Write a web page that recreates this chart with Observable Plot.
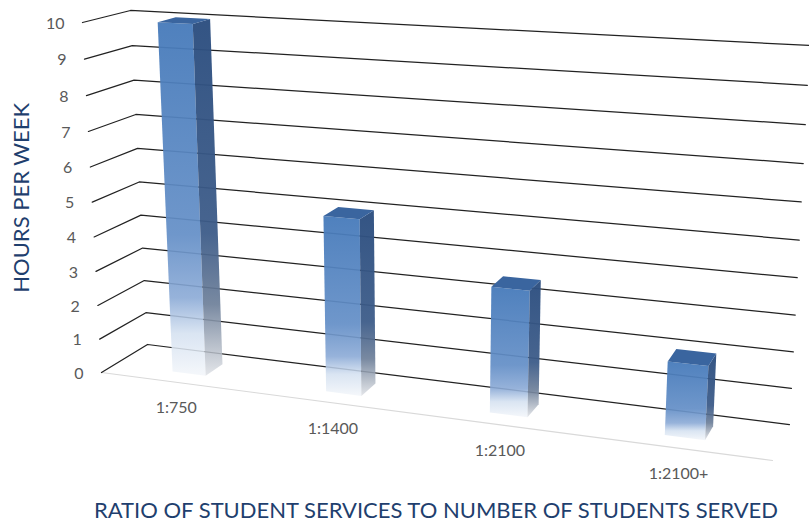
<!DOCTYPE html>
<html><head><meta charset="utf-8">
<script src="https://cdn.jsdelivr.net/npm/d3@7"></script>
<script src="https://cdn.jsdelivr.net/npm/@observablehq/plot@0.6"></script>
<style>html,body{margin:0;padding:0;background:#fff}svg{display:block}</style>
</head><body><div id="chart"></div>
<script>
const categories = ["1:750", "1:1400", "1:2100", "1:2100+"];
const hours = [10, 5, 3.5, 2];
const hourTicks = [0, 1, 2, 3, 4, 5, 6, 7, 8, 9, 10];
const xTitle = "RATIO OF STUDENT SERVICES TO NUMBER OF STUDENTS SERVED";
const yTitle = "HOURS PER WEEK";

// Chart box corners in scale units: floor/ceiling, front/back, left/right.
const corners = {
  flb: [0, 0], frb: [1, -2.514], blb: [0.0686, 0.8], brb: [1.0253, -1.486],
  flt: [-0.0283, 10], frt: [1.0343, 8.886], blt: [0.0432, 10.343], brt: [1.0551, 9.343]
};
const warp = (t, a) => t / (a + (1 - a) * t);
const lerp = (p, q, t) => [p[0] + (q[0] - p[0]) * t, p[1] + (q[1] - p[1]) * t];
function project(pos, depth, h) {
  const u = warp(pos, 1.14), t = warp(h / 10, 1.055), k = corners;
  const low = lerp(lerp(k.flb, k.frb, u), lerp(k.blb, k.brb, u), depth);
  const high = lerp(lerp(k.flt, k.frt, u), lerp(k.blt, k.brt, u), depth);
  return lerp(low, high, t);
}
const pt = (id, pos, depth, h) => { const [x, y] = project(pos, depth, h); return {id, x, y}; };

const grid = hourTicks.flatMap(h => [pt(h, 0, 0, h), pt(h, 0, 1, h), pt(h, 1, 1, h)]);
const floorEdge = [pt("floor", 0, 0, 0), pt("floor", 1, 0, 0)];
const tickLabels = hourTicks.map(h => ({...pt(h, 0, 0, h), label: String(h)}));
const n = categories.length, half = 0.0276, d0 = 0.3, d1 = 0.7;
const centre = i => (i + 0.5) / n;
const catLabels = categories.map((label, i) => ({...pt(i, centre(i), 0, 0), label}));
const fronts = hours.flatMap((h, i) => { const a = centre(i) - half, b = centre(i) + half;
  return [pt(i, a, d0, 0), pt(i, b, d0, 0), pt(i, b, d0, h), pt(i, a, d0, h)]; });
const sides = hours.flatMap((h, i) => { const b = centre(i) + half;
  return [pt(i, b, d0, 0), pt(i, b, d1, 0), pt(i, b, d1, h), pt(i, b, d0, h)]; });
const tops = hours.flatMap((h, i) => { const a = centre(i) - half, b = centre(i) + half;
  return [pt(i, a, d0, h), pt(i, b, d0, h), pt(i, b, d1, h), pt(i, a, d1, h)]; });

function gradient(defs, id, stops) {
  const g = defs.append("linearGradient").attr("id", id).attr("x1", 0).attr("y1", 0).attr("x2", 0).attr("y2", 1);
  stops.forEach(([o, c, a]) => g.append("stop").attr("offset", o).attr("stop-color", c).attr("stop-opacity", a));
}
function gradients() {
  const defs = d3.create("svg:defs");
  gradient(defs, "frontFace", [[0, "#467aba", 0.95], [0.6, "#648fc7", 0.93], [0.78, "#8baad6", 0.9], [0.88, "#d3e0f0", 0.85], [1, "#f3f6fa", 0.85]]);
  gradient(defs, "sideFace", [[0, "#2d4f80", 0.97], [0.6, "#3d5c89", 0.95], [0.8, "#6d7f99", 0.92], [0.92, "#b0b8c4", 0.85], [1, "#dcdfe4", 0.8]]);
  return defs.node();
}

const font = "Lato, 'Open Sans', sans-serif";
const chart = Plot.plot({
  width: 809, height: 523,
  marginLeft: 101, marginRight: 37, marginTop: 22, marginBottom: 151,
  x: {domain: [0, 1], axis: null},
  y: {domain: [0, 10], axis: null},
  style: {background: "#fff", overflow: "hidden"},
  marks: [
    gradients,
    Plot.line(floorEdge, {x: "x", y: "y", stroke: "#d9d9d9", strokeWidth: 1.2}),
    Plot.line(grid, {x: "x", y: "y", z: "id", stroke: "#222", strokeWidth: 1.25}),
    Plot.line(fronts, {x: "x", y: "y", z: "id", fill: "url(#frontFace)", stroke: "none"}),
    Plot.line(sides, {x: "x", y: "y", z: "id", fill: "url(#sideFace)", stroke: "none"}),
    Plot.line(tops, {x: "x", y: "y", z: "id", fill: "#3a659f", stroke: "none"}),
    Plot.text(tickLabels, {x: "x", y: "y", text: "label", textAnchor: "end", dx: -18, dy: 1, fontFamily: font, fontSize: 16, fill: "#595959"}),
    Plot.text(catLabels, {x: "x", y: "y", text: "label", dy: 26, fontFamily: font, fontSize: 16, fill: "#595959"}),
    Plot.text([xTitle], {x: [0.4985], y: [-3.95], text: d => d, fontFamily: font, fontSize: 22, fill: "#1f3f6e"}),
    Plot.text([yTitle], {x: [-0.119], y: [4.99], text: d => d, rotate: -90, fontFamily: font, fontSize: 22, fill: "#1f3f6e"})
  ]
});
document.getElementById("chart").append(chart);
</script></body></html>
